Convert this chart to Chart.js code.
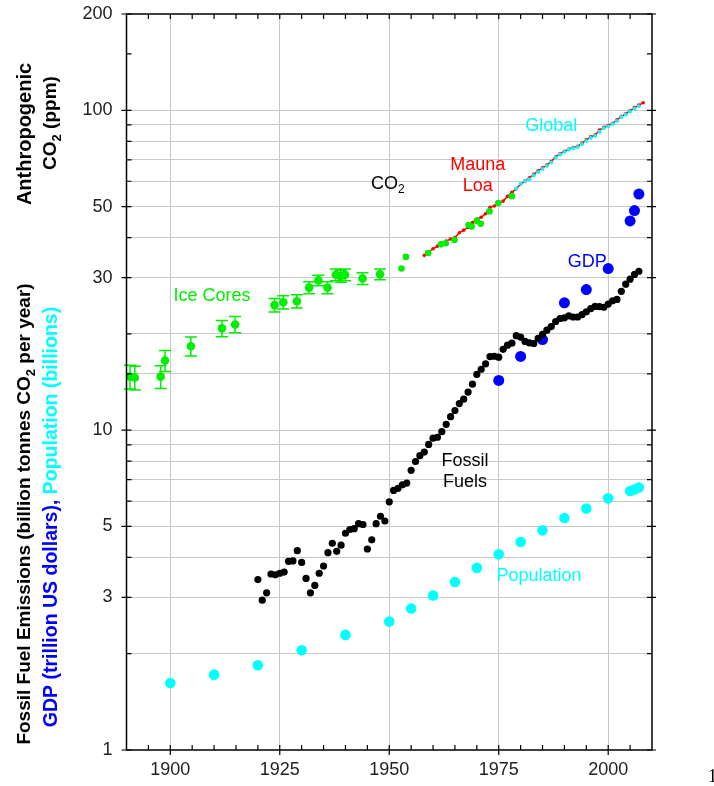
<!DOCTYPE html>
<html>
<head>
<meta charset="utf-8">
<script src="https://cdn.jsdelivr.net/npm/chart.js@4.4.0/dist/chart.umd.min.js"></script>
<style>
  html, body { margin: 0; padding: 0; background: #fff; }
  #wrap { width: 714px; height: 786px; }
</style>
</head>
<body>
<div id="wrap"><canvas id="co2Chart" width="714" height="786"></canvas></div>
<script>
// Anthropogenic CO2 (ppm above 280) and emissions / GDP / population
const iceYears = [1890.8, 1891.9, 1897.8, 1898.8, 1904.7, 1911.8, 1914.8, 1923.8, 1925.8, 1928.9,
    1931.7, 1933.8, 1935.9, 1937.8, 1938.9, 1939.9, 1943.9, 1947.9];
const iceValues = [14.7, 14.6, 14.7, 16.5, 18.3, 20.8, 21.4, 24.6, 25.1, 25.3,
    27.9, 29.4, 27.9, 30.6, 30.3, 30.6, 29.8, 30.7];
const iceErrors = [1.25, 1.25, 1.2, 1.25, 1.25, 1.2, 1.25, 1.2, 1.2, 1.2,
    1.2, 1.1, 1.2, 1.3, 1.3, 1.3, 1.25, 1.2];

const lawYears = [1952.8, 1953.8, 1958.9, 1961.8, 1962.9, 1964.9, 1968.1, 1968.8, 1970.0, 1970.9, 1972.9, 1974.9, 1978.0];
const lawValues = [32.0, 34.8, 35.8, 38.1, 38.4, 39.3, 43.8, 43.3, 45.1, 44.2, 48.3, 51.3, 53.9];

const maunaStart = 1958;
const maunaValues = [35.2, 36.0, 36.9, 37.6, 38.5, 39.0, 39.6, 40.0, 41.4, 42.2,
    43.0, 44.6, 45.7, 46.3, 47.5, 49.7, 50.2, 51.1, 52.0, 53.8,
    55.4, 56.8, 58.8, 60.1, 61.5, 63.1, 64.7, 66.1, 67.4, 69.2,
    71.6, 73.1, 74.4, 75.6, 76.5, 77.1, 78.8, 80.8, 82.6, 83.7,
    86.7, 88.4, 89.6, 91.1, 93.3, 95.8, 97.5, 99.8, 101.9, 103.8, 105.6];

const globalStart = 1979;
const globalValues = [56.9, 58.9, 60.1, 60.9, 62.5, 64.1, 65.5, 67.0, 68.7, 71.2,
    72.8, 74.1, 75.4, 76.1, 76.8, 78.3, 80.2, 81.9, 83.1, 85.7,
    87.8, 89.0, 90.6, 92.6, 95.2, 97.0, 99.2, 101.2, 102.9];

const fossilStart = 1920;
const fossilValues = [3.41, 2.94, 3.10, 3.55, 3.53, 3.57, 3.60, 3.89, 3.90, 4.20,
    3.86, 3.44, 3.10, 3.27, 3.57, 3.76, 4.14, 4.43, 4.18, 4.37,
    4.76, 4.89, 4.92, 5.10, 5.07, 4.25, 4.54, 5.10, 5.38, 5.20,
    5.97, 6.48, 6.58, 6.75, 6.83, 7.49, 7.98, 8.32, 8.54, 9.02,
    9.44, 9.50, 9.89, 10.43, 11.02, 11.52, 12.11, 12.50, 13.15, 13.92,
    14.93, 15.50, 16.12, 16.98, 17.02, 16.91, 17.89, 18.43, 18.70, 19.74,
    19.54, 18.94, 18.73, 18.66, 19.35, 19.93, 20.54, 21.08, 21.86, 22.34,
    22.45, 22.78, 22.58, 22.58, 22.96, 23.44, 23.97, 24.37, 24.34, 24.22,
    24.79, 25.38, 25.63, 27.17, 28.60, 29.65, 30.67, 31.39];

const gdpYears = [1975, 1980, 1985, 1990, 1995, 2000, 2005, 2006, 2007];
const gdpValues = [14.3, 17.0, 19.2, 25.0, 27.5, 32.0, 45.1, 48.6, 54.7];

const popYears = [1900, 1910, 1920, 1930, 1940, 1950, 1955, 1960, 1965, 1970,
    1975, 1980, 1985, 1990, 1995, 2000, 2005, 2006, 2007];
const popValues = [1.62, 1.72, 1.84, 2.05, 2.29, 2.52, 2.77, 3.04, 3.35, 3.71,
    4.09, 4.47, 4.86, 5.31, 5.69, 6.12, 6.45, 6.52, 6.62];

const yTickLabels = [1, 3, 5, 10, 30, 50, 100, 200];
const xTickLabels = [1900, 1925, 1950, 1975, 2000];

const FONT = "'Liberation Sans', Arial, sans-serif";
const GREEN = '#00ee00', RED = '#ff0000', CYAN = '#00ffff', BLUE = '#0000ff';

const pts = (xs, ys) => xs.map((x, i) => ({ x: x, y: ys[i] }));
const seq = (start, ys) => ys.map((y, i) => ({ x: start + i, y: y }));

// text drawn at data coordinates
const annotations = [
    { runs: [{ t: 'Ice Cores' }], x: 1909.5, y: 26.2, color: GREEN },
    { runs: [{ t: 'CO' }, { t: '2', sub: true }], x: 1949.7, y: 58.7, color: '#000' },
    { runs: [{ t: 'Mauna' }], x: 1970.2, y: 67.3, color: RED },
    { runs: [{ t: 'Loa' }], x: 1970.2, y: 57.9, color: RED },
    { runs: [{ t: 'Global' }], x: 1987.0, y: 89.1, color: CYAN },
    { runs: [{ t: 'GDP' }], x: 1995.2, y: 33.5, color: BLUE },
    { runs: [{ t: 'Fossil' }], x: 1967.3, y: 8.0, color: '#000' },
    { runs: [{ t: 'Fuels' }], x: 1967.3, y: 6.88, color: '#000' },
    { runs: [{ t: 'Population' }], x: 1984.2, y: 3.5, color: CYAN }
];

function drawRuns(ctx, runs, x, y, size, weight, color) {
    const main = weight + ' ' + size + 'px ' + FONT;
    const small = weight + ' ' + Math.round(size * 0.68) + 'px ' + FONT;
    let total = 0;
    runs.forEach(r => { ctx.font = r.sub ? small : main; total += ctx.measureText(r.t).width; });
    let cx = x - total / 2;
    ctx.textAlign = 'left';
    ctx.textBaseline = 'middle';
    runs.forEach(r => {
        ctx.font = r.sub ? small : main;
        ctx.fillStyle = r.c || color;
        ctx.fillText(r.t, cx, r.sub ? y + size * 0.32 : y);
        cx += ctx.measureText(r.t).width;
    });
}

const errorBars = {
    id: 'errorBars',
    beforeDatasetsDraw(chart) {
        const ctx = chart.ctx, xs = chart.scales.x, ys = chart.scales.y;
        ctx.save();
        ctx.strokeStyle = GREEN;
        ctx.lineWidth = 1.5;
        iceYears.forEach((yr, i) => {
            const px = xs.getPixelForValue(yr);
            const top = ys.getPixelForValue(iceValues[i] + iceErrors[i]);
            const bot = ys.getPixelForValue(iceValues[i] - iceErrors[i]);
            ctx.beginPath();
            ctx.moveTo(px, top); ctx.lineTo(px, bot);
            ctx.moveTo(px - 6, top); ctx.lineTo(px + 6, top);
            ctx.moveTo(px - 6, bot); ctx.lineTo(px + 6, bot);
            ctx.stroke();
        });
        ctx.restore();
    }
};

const frame = {
    id: 'frame',
    afterDraw(chart) {
        const ctx = chart.ctx, a = chart.chartArea;
        const xs = chart.scales.x, ys = chart.scales.y;
        ctx.save();
        ctx.strokeStyle = '#000';
        ctx.lineWidth = 1.5;
        ctx.strokeRect(a.left, a.top, a.right - a.left, a.bottom - a.top);
        ctx.lineWidth = 1.2;
        ctx.beginPath();
        xs.ticks.forEach(t => {
            const px = xs.getPixelForValue(t.value);
            if (t.value <= xs.min || t.value >= xs.max) return;
            const major = xTickLabels.includes(t.value);
            ctx.moveTo(px, a.bottom + (major ? 5 : 0)); ctx.lineTo(px, a.bottom - 5);
            ctx.moveTo(px, a.top); ctx.lineTo(px, a.top + 5);
        });
        ys.ticks.forEach(t => {
            const py = ys.getPixelForValue(t.value);
            const major = yTickLabels.includes(t.value);
            ctx.moveTo(a.left - (major ? 5 : 0), py); ctx.lineTo(a.left + 5, py);
            ctx.moveTo(a.right - 5, py); ctx.lineTo(a.right + (major ? 4 : 0), py);
        });
        ctx.stroke();

        // labels in the plot
        annotations.forEach(n => {
            drawRuns(ctx, n.runs, xs.getPixelForValue(n.x), ys.getPixelForValue(n.y), 18, 'normal', n.color);
        });

        // axis titles
        const titles = [
            { runs: [{ t: 'Anthropogenic' }], x: 25, y: 134, size: 20 },
            { runs: [{ t: 'CO' }, { t: '2', sub: true }, { t: ' (ppm)' }], x: 51, y: 123, size: 19 },
            { runs: [{ t: 'Fossil Fuel Emissions (billion tonnes CO' }, { t: '2', sub: true }, { t: ' per year)' }], x: 25, y: 514, size: 19 },
            { runs: [{ t: 'GDP (trillion US dollars), ', c: BLUE }, { t: 'Population (billions)', c: CYAN }], x: 52, y: 517, size: 19.5 }
        ];
        titles.forEach(tt => {
            ctx.save();
            ctx.translate(tt.x, tt.y);
            ctx.rotate(-Math.PI / 2);
            drawRuns(ctx, tt.runs, 0, 0, tt.size, 'bold', '#000');
            ctx.restore();
        });

        ctx.font = "18px 'Liberation Serif', serif";
        ctx.fillStyle = '#000';
        ctx.textAlign = 'left';
        ctx.fillText('1', 708, 777);
        ctx.restore();
    }
};

const dot = (color, r) => ({
    showLine: false,
    pointRadius: r,
    pointHoverRadius: r,
    pointBackgroundColor: color,
    pointBorderWidth: 0,
    borderColor: color,
    backgroundColor: color
});

new Chart(document.getElementById('co2Chart').getContext('2d'), {
    type: 'scatter',
    data: {
        datasets: [
            Object.assign({ label: 'Law Dome', data: pts(lawYears, lawValues), order: 1 }, dot(GREEN, 3.3)),
            Object.assign({ label: 'Global', data: seq(globalStart, globalValues), order: 2 }, dot(CYAN, 2)),
            Object.assign({ label: 'Mauna Loa', data: seq(maunaStart, maunaValues), order: 3 }, dot(RED, 1.8),
                { showLine: true, borderWidth: 1.5 }),
            Object.assign({ label: 'Ice Cores', data: pts(iceYears, iceValues), order: 4 }, dot(GREEN, 4.3)),
            Object.assign({ label: 'Fossil Fuels', data: seq(fossilStart, fossilValues), order: 5 }, dot('#000', 3.6)),
            Object.assign({ label: 'GDP', data: pts(gdpYears, gdpValues), order: 6 }, dot(BLUE, 5.5)),
            Object.assign({ label: 'Population', data: pts(popYears, popValues), order: 7 }, dot(CYAN, 5.3))
        ]
    },
    options: {
        responsive: false,
        animation: false,
        devicePixelRatio: 1,
        layout: { padding: { top: 14, right: 62, left: 0, bottom: 0 } },
        scales: {
            x: {
                type: 'linear',
                min: 1890,
                max: 2010,
                afterFit: s => { s.height = 36; s.paddingLeft = 0; s.paddingRight = 0; },
                ticks: {
                    stepSize: 5,
                    autoSkip: false,
                    maxRotation: 0,
                    padding: 9,
                    color: '#222',
                    font: { family: FONT, size: 18 },
                    callback: v => xTickLabels.includes(v) ? String(v) : ''
                },
                grid: {
                    drawTicks: false,
                    lineWidth: 1,
                    color: c => (c.tick && xTickLabels.includes(c.tick.value)) ? '#c8c8c8' : 'rgba(0,0,0,0)'
                },
                border: { display: false }
            },
            y: {
                type: 'logarithmic',
                min: 1,
                max: 200,
                afterFit: s => { s.width = 126.5; s.paddingTop = 0; s.paddingBottom = 0; },
                ticks: {
                    autoSkip: false,
                    padding: 14,
                    color: '#222',
                    font: { family: FONT, size: 18 },
                    callback: v => yTickLabels.includes(v) ? String(v) : ''
                },
                grid: {
                    drawTicks: false,
                    lineWidth: 1,
                    color: c => (c.tick && c.tick.value > 1 && c.tick.value <= 100) ? '#c8c8c8' : 'rgba(0,0,0,0)'
                },
                border: { display: false }
            }
        },
        plugins: {
            legend: { display: false },
            tooltip: { enabled: false }
        }
    },
    plugins: [errorBars, frame]
});
</script>
</body>
</html>
